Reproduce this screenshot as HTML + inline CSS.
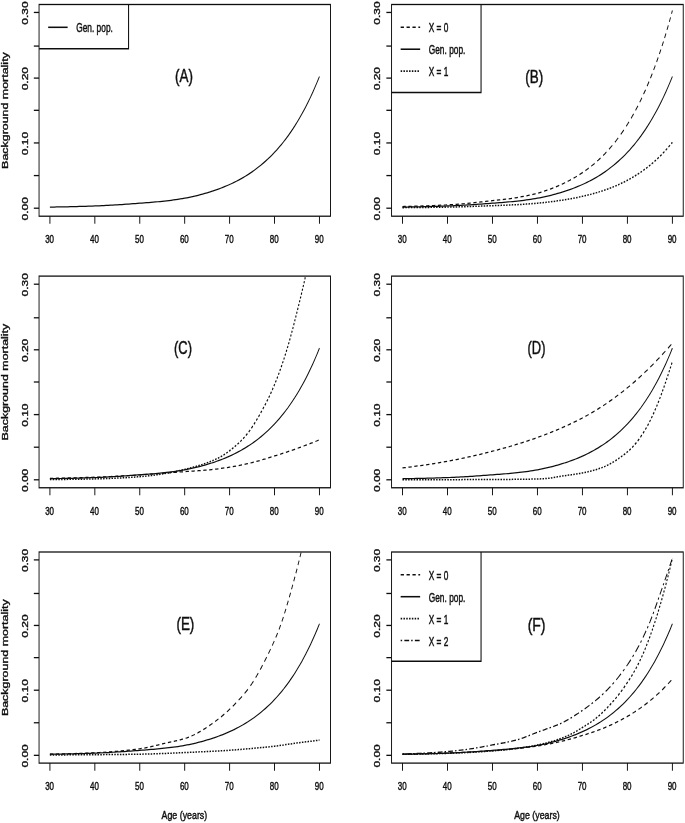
<!DOCTYPE html>
<html lang="en">
<head>
<meta charset="utf-8">
<title>Background mortality</title>
<style>
html,body{margin:0;padding:0;background:#fff;}
body{width:685px;height:823px;overflow:hidden;}
svg{display:block;}
svg text{font-family:"Liberation Sans", sans-serif;fill:#111;stroke:#111;stroke-width:0.45px;}
</style>
</head>
<body>
<svg width="685" height="823" viewBox="0 0 685 823">
<rect x="0" y="0" width="685" height="823" fill="#fff"/>
<defs><filter id="soft" x="-2%" y="-2%" width="104%" height="104%" filterUnits="objectBoundingBox"><feGaussianBlur stdDeviation="0.7 0.6"/></filter></defs>
<g filter="url(#soft)"><g transform="scale(0.735 1)" stroke="#111" stroke-width="1.3" stroke-linecap="butt" stroke-linejoin="miter">
<g>
<clipPath id="clip00"><rect x="53.13" y="4.5" width="396.53" height="211.7"/></clipPath>
<g clip-path="url(#clip00)" fill="none">
<polyline points="67.89,207.09 70.95,207.06 74,207.02 77.06,206.98 80.12,206.94 83.17,206.9 86.23,206.85 89.28,206.81 92.34,206.76 95.4,206.71 98.45,206.66 101.51,206.6 104.56,206.55 107.62,206.49 110.68,206.42 113.73,206.36 116.79,206.29 119.85,206.22 122.9,206.14 125.96,206.06 129.01,205.98 132.07,205.89 135.13,205.8 138.18,205.7 141.24,205.59 144.29,205.48 147.35,205.36 150.41,205.23 153.46,205.1 156.52,204.96 159.57,204.82 162.63,204.67 165.69,204.51 168.74,204.35 171.8,204.19 174.86,204.03 177.91,203.86 180.97,203.7 184.02,203.53 187.08,203.37 190.14,203.2 193.19,203.03 196.25,202.86 199.3,202.69 202.36,202.51 205.42,202.33 208.47,202.14 211.53,201.95 214.59,201.75 217.64,201.54 220.7,201.31 223.75,201.08 226.81,200.83 229.87,200.56 232.92,200.28 235.98,199.99 239.03,199.68 242.09,199.34 245.15,198.99 248.2,198.62 251.26,198.22 254.31,197.79 257.37,197.34 260.43,196.87 263.48,196.37 266.54,195.84 269.6,195.28 272.65,194.7 275.71,194.09 278.76,193.46 281.82,192.8 284.88,192.11 287.93,191.4 290.99,190.66 294.04,189.89 297.1,189.09 300.16,188.25 303.21,187.37 306.27,186.46 309.32,185.51 312.38,184.51 315.44,183.48 318.49,182.39 321.55,181.26 324.61,180.08 327.66,178.85 330.72,177.56 333.77,176.22 336.83,174.82 339.89,173.35 342.94,171.83 346,170.23 349.05,168.57 352.11,166.83 355.17,165.02 358.22,163.12 361.28,161.15 364.34,159.09 367.39,156.93 370.45,154.69 373.5,152.34 376.56,149.89 379.62,147.34 382.67,144.67 385.73,141.88 388.78,138.98 391.84,135.94 394.9,132.77 397.95,129.47 401.01,126.02 404.06,122.41 407.12,118.65 410.18,114.73 413.23,110.63 416.29,106.35 419.35,101.89 422.4,97.23 425.46,92.37 428.51,87.29 431.57,81.99 434.63,76.46" stroke-width="1.25"/>
</g>
<rect x="53.13" y="4.5" width="121.77" height="44.3" fill="#fff" stroke="none"/>
<path d="M174.9 4.5V48.8H53.13" fill="none" stroke-width="1.45"/>
<line x1="65.51" y1="27.3" x2="92.04" y2="27.3" stroke-width="1.55"/>
<text x="103.74" y="32.4" font-size="12.3" text-anchor="start" textLength="49.8" lengthAdjust="spacingAndGlyphs">Gen. pop.</text>
<rect x="53.13" y="4.5" width="396.53" height="211.7" fill="none"/>
<line x1="67.89" y1="216.2" x2="67.89" y2="223.8"/>
<text x="67.48" y="243.5" font-size="11.8" text-anchor="middle" textLength="12.11" lengthAdjust="spacingAndGlyphs">30</text>
<line x1="129.01" y1="216.2" x2="129.01" y2="223.8"/>
<text x="128.61" y="243.5" font-size="11.8" text-anchor="middle" textLength="12.11" lengthAdjust="spacingAndGlyphs">40</text>
<line x1="190.14" y1="216.2" x2="190.14" y2="223.8"/>
<text x="189.73" y="243.5" font-size="11.8" text-anchor="middle" textLength="12.11" lengthAdjust="spacingAndGlyphs">50</text>
<line x1="251.26" y1="216.2" x2="251.26" y2="223.8"/>
<text x="250.85" y="243.5" font-size="11.8" text-anchor="middle" textLength="12.11" lengthAdjust="spacingAndGlyphs">60</text>
<line x1="312.38" y1="216.2" x2="312.38" y2="223.8"/>
<text x="311.97" y="243.5" font-size="11.8" text-anchor="middle" textLength="12.11" lengthAdjust="spacingAndGlyphs">70</text>
<line x1="373.5" y1="216.2" x2="373.5" y2="223.8"/>
<text x="373.1" y="243.5" font-size="11.8" text-anchor="middle" textLength="12.11" lengthAdjust="spacingAndGlyphs">80</text>
<line x1="434.63" y1="216.2" x2="434.63" y2="223.8"/>
<text x="434.22" y="243.5" font-size="11.8" text-anchor="middle" textLength="12.11" lengthAdjust="spacingAndGlyphs">90</text>
<line x1="46.05" y1="208.2" x2="53.13" y2="208.2"/>
<text transform="translate(37.76 208.8) rotate(-90)" font-size="11.8" text-anchor="middle" textLength="23.2" lengthAdjust="spacingAndGlyphs">0.00</text>
<line x1="46.05" y1="175.57" x2="53.13" y2="175.57"/>
<line x1="46.05" y1="142.95" x2="53.13" y2="142.95"/>
<text transform="translate(37.76 143.55) rotate(-90)" font-size="11.8" text-anchor="middle" textLength="23.2" lengthAdjust="spacingAndGlyphs">0.10</text>
<line x1="46.05" y1="110.32" x2="53.13" y2="110.32"/>
<line x1="46.05" y1="78.1" x2="53.13" y2="78.1"/>
<text transform="translate(37.76 78.7) rotate(-90)" font-size="11.8" text-anchor="middle" textLength="23.2" lengthAdjust="spacingAndGlyphs">0.20</text>
<line x1="46.05" y1="46.07" x2="53.13" y2="46.07"/>
<line x1="46.05" y1="12.45" x2="53.13" y2="12.45"/>
<text transform="translate(37.76 13.05) rotate(-90)" font-size="11.8" text-anchor="middle" textLength="23.2" lengthAdjust="spacingAndGlyphs">0.30</text>
<text x="250.34" y="82.3" font-size="17.7" text-anchor="middle" stroke-width="0.55" textLength="24.35" lengthAdjust="spacingAndGlyphs">(A)</text>
<text transform="translate(10.48 110.55) rotate(-90)" font-size="11.8" text-anchor="middle" stroke-width="0.32" textLength="116.7" lengthAdjust="spacingAndGlyphs">Background mortality</text>
</g>
<g>
<clipPath id="clip01"><rect x="532.72" y="4.5" width="396.87" height="211.7"/></clipPath>
<g clip-path="url(#clip01)" fill="none">
<path d="M547.62 206.54L550.68 206.48L552.11 206.46M555.65 206.39L556.8 206.37L559.86 206.31L560.14 206.31M563.67 206.23L565.98 206.18L568.16 206.13M571.7 206.05L572.1 206.04L575.16 205.97L576.19 205.94M579.73 205.85L581.28 205.81L584.22 205.72M587.76 205.62L590.46 205.54L592.24 205.48M595.78 205.36L596.58 205.33L599.64 205.23L600.27 205.2M603.81 205.07L605.76 205L608.3 204.89M611.84 204.74L611.88 204.74L614.94 204.6L616.33 204.53M619.86 204.35L621.06 204.29L624.12 204.12L624.35 204.11M627.89 203.89L630.24 203.75L632.38 203.61M635.92 203.37L636.36 203.34L639.42 203.12L640.41 203.05M643.95 202.79L645.54 202.67L648.44 202.44M651.97 202.16L654.72 201.94L656.46 201.8M660 201.51L660.84 201.45L663.9 201.2L664.49 201.15M668.03 200.86L670.02 200.7L672.52 200.49M676.05 200.2L676.14 200.19L679.2 199.93L680.54 199.82M684.08 199.51L685.32 199.4L688.38 199.11L688.57 199.1M692.11 198.76L694.5 198.52L696.6 198.3M700.14 197.92L700.62 197.87L703.68 197.52L704.63 197.4M708.16 196.96L709.8 196.74L712.65 196.35M716.19 195.84L718.98 195.41L720.68 195.14M724.22 194.54L725.1 194.39L728.16 193.83L728.71 193.72M732.24 193.02L734.28 192.59L736.73 192.05M740.27 191.24L740.4 191.2L743.46 190.45L744.76 190.12M748.3 189.18L749.59 188.83L752.65 187.95L752.79 187.91M756.33 186.85L758.77 186.09L760.82 185.42M764.35 184.24L764.89 184.06L767.95 182.99L768.84 182.67M772.38 181.37L774.07 180.73L776.87 179.63M780.41 178.18L783.25 176.96L784.9 176.22M788.44 174.6L789.37 174.16L792.43 172.67L792.93 172.42M796.46 170.6L798.55 169.49L800.95 168.16M804.49 166.12L804.67 166.02L807.73 164.17L808.98 163.38M812.52 161.1L813.85 160.23L816.91 158.13L817.01 158.05M820.54 155.5L823.03 153.64L825.03 152.07M828.57 149.22L829.15 148.75L832.21 146.15L833.06 145.39M836.6 142.19L838.33 140.59L841.09 137.91M844.59 134.38L847.51 131.3L848.79 129.88M851.95 126.34L853.63 124.41L855.76 121.85M858.63 118.3L859.75 116.9L862.11 113.81M864.74 110.27L865.87 108.72L867.94 105.77M870.36 102.23L871.99 99.81L873.33 97.73M875.59 94.19L878.11 90.1L878.35 89.7M880.44 86.15L881.17 84.92L883.02 81.66M884.99 78.12L887.29 73.88L887.42 73.62M889.27 70.08L890.35 67.99L891.55 65.58M893.31 62.04L893.41 61.85L895.46 57.54M897.12 54L899.18 49.51M900.74 45.97L902.59 41.75L902.71 41.47M904.19 37.93L905.65 34.45L906.06 33.43M907.48 29.89L908.71 26.83L909.26 25.39M910.63 21.85L911.77 18.88L912.33 17.36M913.64 13.81L914.83 10.59" stroke-width="1.25"/>
<polyline points="547.62,207.09 550.68,207.06 553.74,207.02 556.8,206.98 559.86,206.94 562.92,206.9 565.98,206.85 569.04,206.81 572.1,206.76 575.16,206.71 578.22,206.66 581.28,206.6 584.34,206.55 587.4,206.49 590.46,206.42 593.52,206.36 596.58,206.29 599.64,206.22 602.7,206.14 605.76,206.06 608.82,205.98 611.88,205.89 614.94,205.8 618,205.7 621.06,205.59 624.12,205.48 627.18,205.36 630.24,205.23 633.3,205.1 636.36,204.96 639.42,204.82 642.48,204.67 645.54,204.51 648.6,204.35 651.66,204.19 654.72,204.03 657.78,203.86 660.84,203.7 663.9,203.53 666.96,203.37 670.02,203.2 673.08,203.03 676.14,202.86 679.2,202.69 682.26,202.51 685.32,202.33 688.38,202.14 691.44,201.95 694.5,201.75 697.56,201.54 700.62,201.31 703.68,201.08 706.74,200.83 709.8,200.56 712.86,200.28 715.92,199.99 718.98,199.68 722.04,199.34 725.1,198.99 728.16,198.62 731.22,198.22 734.28,197.79 737.34,197.34 740.4,196.87 743.46,196.37 746.52,195.84 749.59,195.28 752.65,194.7 755.71,194.09 758.77,193.46 761.83,192.8 764.89,192.11 767.95,191.4 771.01,190.66 774.07,189.89 777.13,189.09 780.19,188.25 783.25,187.37 786.31,186.46 789.37,185.51 792.43,184.51 795.49,183.48 798.55,182.39 801.61,181.26 804.67,180.08 807.73,178.85 810.79,177.56 813.85,176.22 816.91,174.82 819.97,173.35 823.03,171.83 826.09,170.23 829.15,168.57 832.21,166.83 835.27,165.02 838.33,163.12 841.39,161.15 844.45,159.09 847.51,156.93 850.57,154.69 853.63,152.34 856.69,149.89 859.75,147.34 862.81,144.67 865.87,141.88 868.93,138.98 871.99,135.94 875.05,132.77 878.11,129.47 881.17,126.02 884.23,122.41 887.29,118.65 890.35,114.73 893.41,110.63 896.47,106.35 899.53,101.89 902.59,97.23 905.65,92.37 908.71,87.29 911.77,81.99 914.83,76.46" stroke-width="1.25"/>
<path d="M547.62 207.65L549.66 207.63M551.43 207.62L553.47 207.61M555.24 207.6L556.8 207.59L557.28 207.59M559.05 207.58L559.86 207.57L561.09 207.56M562.86 207.55L562.92 207.55L564.9 207.54M566.67 207.52L568.71 207.51M570.48 207.49L572.1 207.48L572.52 207.48M574.29 207.46L575.16 207.46L576.33 207.45M578.1 207.43L578.22 207.43L580.14 207.41M581.9 207.4L583.95 207.38M585.71 207.36L587.4 207.34L587.76 207.34M589.52 207.32L590.46 207.31L591.56 207.3M593.33 207.28L593.52 207.28L595.37 207.26M597.14 207.24L599.18 207.21M600.95 207.19L602.7 207.17L602.99 207.17M604.76 207.14L605.76 207.13L606.8 207.12M608.57 207.09L608.82 207.09L610.61 207.07M612.38 207.04L614.42 207.01M616.19 206.98L618 206.95L618.23 206.95M620 206.91L621.06 206.9L622.04 206.88M623.81 206.85L624.12 206.84L625.85 206.81M627.62 206.77L629.66 206.73M631.43 206.69L633.3 206.65L633.47 206.65M635.24 206.61L636.36 206.58L637.28 206.56M639.05 206.52L639.42 206.51L641.09 206.47M642.86 206.42L644.9 206.37M646.67 206.33L648.6 206.28L648.71 206.27M650.48 206.23L651.66 206.2L652.52 206.17M654.29 206.13L654.72 206.11L656.33 206.07M658.1 206.02L660.14 205.97M661.9 205.92L663.9 205.87L663.95 205.87M665.71 205.82L666.96 205.78L667.76 205.76M669.52 205.71L670.02 205.7L671.56 205.66M673.33 205.61L675.37 205.55M677.14 205.5L679.18 205.44M680.95 205.39L682.26 205.36L682.99 205.33M684.76 205.28L685.32 205.27L686.8 205.22M688.57 205.17L690.61 205.1M692.38 205.04L694.42 204.98M696.19 204.92L697.56 204.87L698.23 204.84M700 204.78L700.62 204.76L702.04 204.7M703.81 204.63L705.85 204.55M707.62 204.48L709.66 204.39M711.43 204.31L712.86 204.24L713.47 204.21M715.24 204.13L715.92 204.09L717.28 204.02M719.05 203.93L721.09 203.82M722.86 203.73L724.9 203.61M726.67 203.5L728.16 203.41L728.71 203.37M730.48 203.26L731.22 203.21L732.52 203.12M734.29 203L736.33 202.85M738.1 202.71L740.14 202.56M741.9 202.41L743.46 202.28L743.95 202.24M745.71 202.09L746.52 202.02L747.76 201.91M749.52 201.75L749.59 201.74L751.56 201.55M753.33 201.38L755.37 201.18M757.14 201L758.77 200.83L759.18 200.78M760.95 200.59L761.83 200.5L762.99 200.37M764.76 200.17L764.89 200.15L766.8 199.93M768.57 199.72L770.61 199.48M772.38 199.26L774.07 199.04L774.42 199M776.19 198.77L777.13 198.64L778.23 198.49M780 198.25L780.19 198.22L782.04 197.96M783.81 197.7L785.85 197.4M787.62 197.13L789.37 196.85L789.66 196.81M791.43 196.52L792.43 196.36L793.47 196.18M795.24 195.88L795.49 195.84L797.28 195.52M799.05 195.2L801.09 194.83M802.86 194.49L804.67 194.14L804.9 194.09M806.67 193.74L807.73 193.52L808.71 193.32M810.48 192.95L810.79 192.88L812.52 192.5M814.29 192.11L816.33 191.64M818.1 191.22L819.97 190.78L820.14 190.73M821.9 190.29L823.03 190.01L823.95 189.77M825.71 189.31L826.09 189.22L827.76 188.76M829.52 188.28L831.56 187.7M833.33 187.18L835.27 186.61L835.37 186.58M837.14 186.03L838.33 185.66L839.18 185.39M840.95 184.81L841.39 184.67L842.99 184.13M844.76 183.53L846.8 182.81M848.57 182.18L850.57 181.44L850.61 181.43M852.38 180.75L853.63 180.27L854.42 179.95M856.19 179.24L856.69 179.05L858.23 178.4M860 177.66L862.04 176.77M863.81 175.98L865.85 175.05M867.62 174.21L868.93 173.59L869.66 173.23M871.43 172.35L871.99 172.07L873.47 171.3M875.24 170.38L877.28 169.28M879.05 168.3L881.09 167.15M882.86 166.11L884.23 165.31L884.9 164.9M886.67 163.81L887.29 163.43L888.71 162.52M890.48 161.38L892.52 160.01M894.29 158.8L896.33 157.38M898.1 156.09L899.53 155.05L900.14 154.58M901.9 153.24L902.59 152.72L903.95 151.64M905.71 150.23L907.76 148.54M909.52 147.04L911.56 145.27M913.33 143.68L914.83 142.33" stroke-width="1.5"/>
</g>
<rect x="532.72" y="4.5" width="121.77" height="88" fill="#fff" stroke="none"/>
<path d="M654.49 4.5V92.5H532.72" fill="none" stroke-width="1.45"/>
<path d="M545.1 27.3L549.59 27.3M553.13 27.3L557.62 27.3M561.16 27.3L565.65 27.3M569.18 27.3L571.63 27.3" stroke-width="1.55" fill="none"/>
<text x="583.33" y="32.4" font-size="12.3" text-anchor="start" textLength="26.67" lengthAdjust="spacingAndGlyphs">X = 0</text>
<line x1="545.1" y1="49.2" x2="571.63" y2="49.2" stroke-width="1.55"/>
<text x="583.33" y="54.3" font-size="12.3" text-anchor="start" textLength="49.8" lengthAdjust="spacingAndGlyphs">Gen. pop.</text>
<path d="M545.1 71.1L547.14 71.1M548.91 71.1L550.95 71.1M552.72 71.1L554.76 71.1M556.53 71.1L558.57 71.1M560.34 71.1L562.38 71.1M564.15 71.1L566.19 71.1M567.96 71.1L570 71.1" stroke-width="1.8" fill="none"/>
<text x="583.33" y="76.2" font-size="12.3" text-anchor="start" textLength="26.67" lengthAdjust="spacingAndGlyphs">X = 1</text>
<rect x="532.72" y="4.5" width="396.87" height="211.7" fill="none"/>
<line x1="547.62" y1="216.2" x2="547.62" y2="223.8"/>
<text x="547.21" y="243.5" font-size="11.8" text-anchor="middle" textLength="12.11" lengthAdjust="spacingAndGlyphs">30</text>
<line x1="608.82" y1="216.2" x2="608.82" y2="223.8"/>
<text x="608.41" y="243.5" font-size="11.8" text-anchor="middle" textLength="12.11" lengthAdjust="spacingAndGlyphs">40</text>
<line x1="670.02" y1="216.2" x2="670.02" y2="223.8"/>
<text x="669.61" y="243.5" font-size="11.8" text-anchor="middle" textLength="12.11" lengthAdjust="spacingAndGlyphs">50</text>
<line x1="731.22" y1="216.2" x2="731.22" y2="223.8"/>
<text x="730.82" y="243.5" font-size="11.8" text-anchor="middle" textLength="12.11" lengthAdjust="spacingAndGlyphs">60</text>
<line x1="792.43" y1="216.2" x2="792.43" y2="223.8"/>
<text x="792.02" y="243.5" font-size="11.8" text-anchor="middle" textLength="12.11" lengthAdjust="spacingAndGlyphs">70</text>
<line x1="853.63" y1="216.2" x2="853.63" y2="223.8"/>
<text x="853.22" y="243.5" font-size="11.8" text-anchor="middle" textLength="12.11" lengthAdjust="spacingAndGlyphs">80</text>
<line x1="914.83" y1="216.2" x2="914.83" y2="223.8"/>
<text x="914.42" y="243.5" font-size="11.8" text-anchor="middle" textLength="12.11" lengthAdjust="spacingAndGlyphs">90</text>
<line x1="525.65" y1="208.2" x2="532.72" y2="208.2"/>
<text transform="translate(517.35 208.8) rotate(-90)" font-size="11.8" text-anchor="middle" textLength="23.2" lengthAdjust="spacingAndGlyphs">0.00</text>
<line x1="525.65" y1="175.57" x2="532.72" y2="175.57"/>
<line x1="525.65" y1="142.95" x2="532.72" y2="142.95"/>
<text transform="translate(517.35 143.55) rotate(-90)" font-size="11.8" text-anchor="middle" textLength="23.2" lengthAdjust="spacingAndGlyphs">0.10</text>
<line x1="525.65" y1="110.32" x2="532.72" y2="110.32"/>
<line x1="525.65" y1="78.1" x2="532.72" y2="78.1"/>
<text transform="translate(517.35 78.7) rotate(-90)" font-size="11.8" text-anchor="middle" textLength="23.2" lengthAdjust="spacingAndGlyphs">0.20</text>
<line x1="525.65" y1="46.07" x2="532.72" y2="46.07"/>
<line x1="525.65" y1="12.45" x2="532.72" y2="12.45"/>
<text transform="translate(517.35 13.05) rotate(-90)" font-size="11.8" text-anchor="middle" textLength="23.2" lengthAdjust="spacingAndGlyphs">0.30</text>
<text x="726.94" y="83.5" font-size="17.7" text-anchor="middle" stroke-width="0.55" textLength="24.35" lengthAdjust="spacingAndGlyphs">(B)</text>
</g>
<g>
<clipPath id="clip10"><rect x="53.13" y="276.1" width="396.53" height="211.65"/></clipPath>
<g clip-path="url(#clip10)" fill="none">
<path d="M67.89 478.37L70.95 478.32L72.38 478.3M75.92 478.25L77.06 478.23L80.12 478.19L80.41 478.18M83.95 478.13L86.23 478.09L88.44 478.05M91.97 477.99L92.34 477.98L95.4 477.93L96.46 477.91M100 477.84L101.51 477.81L104.49 477.76M108.03 477.68L110.68 477.63L112.52 477.59M116.05 477.51L116.79 477.49L119.85 477.42L120.54 477.4M124.08 477.32L125.96 477.27L128.57 477.2M132.11 477.11L135.13 477.02L136.6 476.98M140.14 476.88L141.24 476.84L144.29 476.75L144.63 476.73M148.16 476.62L150.41 476.54L152.65 476.46M156.19 476.33L156.52 476.32L159.57 476.21L160.68 476.16M164.22 476.03L165.69 475.97L168.71 475.84M172.24 475.7L174.86 475.59L176.73 475.5M180.27 475.35L180.97 475.32L184.02 475.18L184.76 475.15M188.3 474.99L190.14 474.91L192.79 474.79M196.33 474.62L199.3 474.48L200.82 474.41M204.35 474.23L205.42 474.18L208.47 474.02L208.84 474M212.38 473.82L214.59 473.7L216.87 473.58M220.41 473.39L220.7 473.37L223.75 473.2L224.9 473.14M228.44 472.94L229.87 472.86L232.92 472.69L232.93 472.69M236.46 472.49L239.03 472.34L240.95 472.23M244.49 472.03L245.15 471.99L248.2 471.82L248.98 471.78M252.52 471.58L254.31 471.48L257.01 471.34M260.54 471.17L263.48 471.02L265.03 470.95M268.57 470.77L269.6 470.72L272.65 470.56L273.06 470.54M276.6 470.33L278.76 470.2L281.09 470.05M284.63 469.8L284.88 469.79L287.93 469.55L289.12 469.46M292.65 469.17L294.04 469.05L297.1 468.78L297.14 468.77M300.68 468.44L303.21 468.19L305.17 467.99M308.71 467.61L309.32 467.55L312.38 467.2L313.2 467.11M316.73 466.67L318.49 466.45L321.22 466.08M324.76 465.58L327.66 465.15L329.25 464.9M332.79 464.35L333.77 464.19L336.83 463.69L337.28 463.61M340.82 462.99L342.94 462.6L345.31 462.15M348.84 461.45L349.05 461.41L352.11 460.78L353.33 460.52M356.87 459.75L358.22 459.45L361.28 458.77L361.36 458.75M364.9 457.95L367.39 457.37L369.39 456.92M372.93 456.11L373.5 455.97L376.56 455.27L377.41 455.07M380.95 454.24L382.67 453.84L385.44 453.18M388.98 452.32L391.84 451.62L393.47 451.22M397.01 450.33L397.95 450.09L401.01 449.3L401.5 449.18M405.03 448.25L407.12 447.69L409.52 447.04M413.06 446.07L413.23 446.02L416.29 445.17L417.55 444.82M421.09 443.81L422.4 443.43L425.46 442.55L425.58 442.51M429.12 441.48L431.57 440.75L433.61 440.14" stroke-width="1.25"/>
<polyline points="67.89,478.69 70.95,478.66 74,478.62 77.06,478.58 80.12,478.54 83.17,478.5 86.23,478.46 89.28,478.41 92.34,478.36 95.4,478.31 98.45,478.26 101.51,478.21 104.56,478.15 107.62,478.09 110.68,478.03 113.73,477.96 116.79,477.89 119.85,477.82 122.9,477.74 125.96,477.67 129.01,477.58 132.07,477.5 135.13,477.4 138.18,477.3 141.24,477.19 144.29,477.08 147.35,476.96 150.41,476.83 153.46,476.7 156.52,476.56 159.57,476.42 162.63,476.27 165.69,476.12 168.74,475.96 171.8,475.8 174.86,475.63 177.91,475.47 180.97,475.3 184.02,475.14 187.08,474.97 190.14,474.8 193.19,474.64 196.25,474.47 199.3,474.29 202.36,474.12 205.42,473.93 208.47,473.75 211.53,473.55 214.59,473.35 217.64,473.14 220.7,472.92 223.75,472.68 226.81,472.43 229.87,472.17 232.92,471.89 235.98,471.59 239.03,471.28 242.09,470.95 245.15,470.6 248.2,470.22 251.26,469.83 254.31,469.4 257.37,468.95 260.43,468.48 263.48,467.98 266.54,467.45 269.6,466.89 272.65,466.31 275.71,465.7 278.76,465.07 281.82,464.41 284.88,463.72 287.93,463.01 290.99,462.27 294.04,461.5 297.1,460.7 300.16,459.86 303.21,458.99 306.27,458.08 309.32,457.13 312.38,456.13 315.44,455.1 318.49,454.01 321.55,452.88 324.61,451.7 327.66,450.47 330.72,449.19 333.77,447.84 336.83,446.44 339.89,444.98 342.94,443.45 346,441.86 349.05,440.2 352.11,438.46 355.17,436.65 358.22,434.76 361.28,432.78 364.34,430.72 367.39,428.57 370.45,426.33 373.5,423.98 376.56,421.54 379.62,418.98 382.67,416.32 385.73,413.53 388.78,410.63 391.84,407.6 394.9,404.43 397.95,401.13 401.01,397.68 404.06,394.08 407.12,390.32 410.18,386.4 413.23,382.31 416.29,378.03 419.35,373.57 422.4,368.92 425.46,364.06 428.51,358.98 431.57,353.69 434.63,348.16" stroke-width="1.25"/>
<path d="M67.89 479.54L69.93 479.53M71.7 479.52L73.74 479.51M75.51 479.49L77.06 479.48L77.55 479.48M79.32 479.47L80.12 479.46L81.36 479.46M83.13 479.44L83.17 479.44L85.17 479.43M86.94 479.41L88.98 479.4M90.75 479.38L92.34 479.37L92.79 479.36M94.56 479.35L95.4 479.34L96.6 479.33M98.37 479.31L98.45 479.31L100.41 479.29M102.18 479.27L104.22 479.25M105.99 479.23L107.62 479.21L108.03 479.2M109.8 479.18L110.68 479.17L111.84 479.16M113.61 479.13L113.73 479.13L115.65 479.1M117.41 479.08L119.46 479.05M121.22 479.02L122.9 478.99L123.27 478.99M125.03 478.96L125.96 478.94L127.07 478.92M128.84 478.89L129.01 478.89L130.88 478.85M132.65 478.82L134.69 478.78M136.46 478.74L138.18 478.7L138.5 478.69M140.27 478.65L141.24 478.63L142.31 478.6M144.08 478.56L144.29 478.56L146.12 478.51M147.89 478.46L149.93 478.4M151.7 478.35L153.46 478.3L153.74 478.29M155.51 478.24L156.52 478.21L157.55 478.17M159.32 478.11L159.57 478.1L161.36 478.04M163.13 477.98L165.17 477.9M166.94 477.83L168.74 477.76L168.98 477.75M170.75 477.68L171.8 477.63L172.79 477.59M174.56 477.51L174.86 477.49L176.6 477.41M178.37 477.33L180.41 477.22M182.18 477.13L184.02 477.03L184.22 477.02M185.99 476.92L187.08 476.86L188.03 476.8M189.8 476.69L190.14 476.67L191.84 476.56M193.61 476.44L195.65 476.3M197.41 476.18L199.3 476.04L199.46 476.02M201.22 475.88L202.36 475.79L203.27 475.72M205.03 475.57L205.42 475.54L207.07 475.39M208.84 475.23L210.88 475.03M212.65 474.85L214.59 474.66L214.69 474.65M216.46 474.45L217.64 474.33L218.5 474.23M220.27 474.03L220.7 473.98L222.31 473.78M224.08 473.57L226.12 473.31M227.89 473.07L229.87 472.81L229.93 472.8M231.7 472.55L232.92 472.38L233.74 472.26M235.51 471.99L235.98 471.92L237.55 471.68M239.32 471.41L241.36 471.08M243.13 470.79L245.15 470.45L245.17 470.44M246.94 470.14L248.2 469.92L248.98 469.78M250.75 469.46L251.26 469.37L252.79 469.09M254.56 468.76L256.6 468.38M258.37 468.04L260.41 467.65M262.18 467.3L263.48 467.04L264.22 466.89M265.99 466.53L266.54 466.42L268.03 466.1M269.8 465.72L271.84 465.27M273.61 464.86L275.65 464.38M277.41 463.93L278.76 463.6L279.46 463.41M281.22 462.93L281.82 462.78L283.27 462.37M285.03 461.87L287.07 461.27M288.84 460.73L290.88 460.1M292.65 459.51L294.04 459.05L294.69 458.81M296.46 458.18L297.1 457.95L298.5 457.4M300.27 456.7L302.31 455.82M304.08 455.02L306.12 454.06M307.89 453.16L309.32 452.43L309.93 452.1M311.7 451.14L312.38 450.77L313.74 449.99M315.51 448.97L317.55 447.74M319.32 446.65L321.36 445.35M323.13 444.17L324.61 443.18L325.17 442.78M326.94 441.52L327.66 441L328.98 440M330.75 438.64L332.79 436.97M334.56 435.46L336.6 433.64M338.37 431.93L339.89 430.44L340.38 429.91M342.04 428.14L342.94 427.18L343.89 426.1M345.44 424.33L346 423.69L347.16 422.29M348.62 420.51L349.05 420L350.27 418.47M351.68 416.7L352.11 416.16L353.28 414.66M354.66 412.89L355.17 412.23L356.21 410.84M357.55 409.07L358.22 408.17L359.05 407.03M360.33 405.26L361.28 403.95L361.79 403.21M363.02 401.44L364.34 399.54L364.43 399.4M365.59 397.63L366.93 395.58M368.05 393.81L369.32 391.77M370.41 390L370.45 389.94L371.6 387.96M372.62 386.18L373.5 384.66L373.79 384.14M374.75 382.37L375.87 380.33M376.82 378.56L377.88 376.51M378.79 374.74L379.62 373.14L379.83 372.7M380.7 370.93L381.69 368.88M382.56 367.11L382.67 366.88L383.51 365.07M384.33 363.3L385.27 361.25M386.07 359.48L386.96 357.44M387.74 355.67L388.63 353.63M389.37 351.85L390.22 349.81M390.95 348.04L391.8 346M392.48 344.23L393.28 342.18M393.96 340.41L394.76 338.37M395.41 336.6L396.16 334.55M396.81 332.78L397.56 330.74M398.2 328.97L398.92 326.92M399.55 325.15L400.27 323.11M400.89 321.34L401.01 321L401.59 319.29M402.2 317.52L402.9 315.48M403.51 313.71L404.06 312.08L404.21 311.67M404.8 309.89L405.49 307.85M406.09 306.08L406.78 304.04M407.37 302.27L408.04 300.22M408.63 298.45L409.3 296.41M409.89 294.64L410.18 293.77L410.55 292.59M411.12 290.82L411.78 288.78M412.34 287.01L413 284.96M413.55 283.19L414.18 281.15M414.73 279.38L415.36 277.34M415.9 275.56L416.29 274.31L416.52 273.52M417.05 271.75L417.65 269.71M418.17 267.94L418.78 265.89M419.3 264.12L419.35 263.97L419.88 262.08M420.38 260.31L420.96 258.26M421.47 256.49L422.05 254.45" stroke-width="1.5"/>
</g>
<rect x="53.13" y="276.1" width="396.53" height="211.65" fill="none"/>
<line x1="67.89" y1="487.75" x2="67.89" y2="495.35"/>
<text x="67.48" y="515.05" font-size="11.8" text-anchor="middle" textLength="12.11" lengthAdjust="spacingAndGlyphs">30</text>
<line x1="129.01" y1="487.75" x2="129.01" y2="495.35"/>
<text x="128.61" y="515.05" font-size="11.8" text-anchor="middle" textLength="12.11" lengthAdjust="spacingAndGlyphs">40</text>
<line x1="190.14" y1="487.75" x2="190.14" y2="495.35"/>
<text x="189.73" y="515.05" font-size="11.8" text-anchor="middle" textLength="12.11" lengthAdjust="spacingAndGlyphs">50</text>
<line x1="251.26" y1="487.75" x2="251.26" y2="495.35"/>
<text x="250.85" y="515.05" font-size="11.8" text-anchor="middle" textLength="12.11" lengthAdjust="spacingAndGlyphs">60</text>
<line x1="312.38" y1="487.75" x2="312.38" y2="495.35"/>
<text x="311.97" y="515.05" font-size="11.8" text-anchor="middle" textLength="12.11" lengthAdjust="spacingAndGlyphs">70</text>
<line x1="373.5" y1="487.75" x2="373.5" y2="495.35"/>
<text x="373.1" y="515.05" font-size="11.8" text-anchor="middle" textLength="12.11" lengthAdjust="spacingAndGlyphs">80</text>
<line x1="434.63" y1="487.75" x2="434.63" y2="495.35"/>
<text x="434.22" y="515.05" font-size="11.8" text-anchor="middle" textLength="12.11" lengthAdjust="spacingAndGlyphs">90</text>
<line x1="46.05" y1="479.8" x2="53.13" y2="479.8"/>
<text transform="translate(37.76 480.4) rotate(-90)" font-size="11.8" text-anchor="middle" textLength="23.2" lengthAdjust="spacingAndGlyphs">0.00</text>
<line x1="46.05" y1="447.2" x2="53.13" y2="447.2"/>
<line x1="46.05" y1="414.6" x2="53.13" y2="414.6"/>
<text transform="translate(37.76 415.2) rotate(-90)" font-size="11.8" text-anchor="middle" textLength="23.2" lengthAdjust="spacingAndGlyphs">0.10</text>
<line x1="46.05" y1="382" x2="53.13" y2="382"/>
<line x1="46.05" y1="349.8" x2="53.13" y2="349.8"/>
<text transform="translate(37.76 350.4) rotate(-90)" font-size="11.8" text-anchor="middle" textLength="23.2" lengthAdjust="spacingAndGlyphs">0.20</text>
<line x1="46.05" y1="317.8" x2="53.13" y2="317.8"/>
<line x1="46.05" y1="284.2" x2="53.13" y2="284.2"/>
<text transform="translate(37.76 284.8) rotate(-90)" font-size="11.8" text-anchor="middle" textLength="23.2" lengthAdjust="spacingAndGlyphs">0.30</text>
<text x="248.98" y="354.1" font-size="17.7" text-anchor="middle" stroke-width="0.55" textLength="24.35" lengthAdjust="spacingAndGlyphs">(C)</text>
<text transform="translate(10.48 382.12) rotate(-90)" font-size="11.8" text-anchor="middle" stroke-width="0.32" textLength="116.7" lengthAdjust="spacingAndGlyphs">Background mortality</text>
</g>
<g>
<clipPath id="clip11"><rect x="532.72" y="276.1" width="396.87" height="211.65"/></clipPath>
<g clip-path="url(#clip11)" fill="none">
<path d="M547.62 467.93L550.68 467.66L552.11 467.53M555.65 467.2L556.8 467.1L559.86 466.81L560.14 466.78M563.67 466.43L565.98 466.21L568.16 465.99M571.7 465.62L572.1 465.58L575.16 465.26L576.19 465.15M579.73 464.76L581.28 464.59L584.22 464.26M587.76 463.86L590.46 463.54L592.24 463.33M595.78 462.9L596.58 462.8L599.64 462.42L600.27 462.34M603.81 461.89L605.76 461.64L608.3 461.3M611.84 460.83L611.88 460.82L614.94 460.4L616.33 460.2M619.86 459.7L621.06 459.53L624.12 459.07L624.35 459.04M627.89 458.5L630.24 458.14L632.38 457.81M635.92 457.25L636.36 457.18L639.42 456.68L640.41 456.51M643.95 455.92L645.54 455.65L648.44 455.16M651.97 454.54L654.72 454.05L656.46 453.74M660 453.1L660.84 452.94L663.9 452.37L664.49 452.26M668.03 451.6L670.02 451.22L672.52 450.74M676.05 450.05L676.14 450.03L679.2 449.42L680.54 449.15M684.08 448.44L685.32 448.19L688.38 447.55L688.57 447.51M692.11 446.77L694.5 446.26L696.6 445.8M700.14 445.03L700.62 444.92L703.68 444.23L704.63 444.02M708.16 443.21L709.8 442.83L712.65 442.16M716.19 441.31L718.98 440.63L720.68 440.2M724.22 439.31L725.1 439.09L728.16 438.29L728.71 438.15M732.24 437.21L734.28 436.67L736.73 436M740.27 435.03L740.4 434.99L743.46 434.13L744.76 433.76M748.3 432.75L749.59 432.37L752.65 431.47L752.79 431.43M756.33 430.37L758.77 429.62L760.82 428.99M764.35 427.87L764.89 427.7L767.95 426.72L768.84 426.42M772.38 425.24L774.07 424.68L776.87 423.71M780.41 422.46L783.25 421.44L784.9 420.83M788.44 419.51L789.37 419.16L792.43 417.97L792.93 417.77M796.46 416.36L798.55 415.51L800.95 414.51M804.49 413.01L804.67 412.93L807.73 411.6L808.98 411.05M812.52 409.45L813.85 408.85L816.91 407.43L817.01 407.38M820.54 405.69L823.03 404.48L825.03 403.49M828.57 401.71L829.15 401.42L832.21 399.83L833.06 399.38M836.6 397.5L838.33 396.57L841.09 395.05M844.63 393.07L847.51 391.43L849.12 390.49M852.65 388.41L853.63 387.83L856.69 385.97L857.14 385.69M860.68 383.48L862.81 382.13L865.17 380.61M868.71 378.28L868.93 378.13L871.99 376.07L873.2 375.24M876.73 372.79L878.11 371.83L881.17 369.65L881.22 369.61M884.76 367.04L887.29 365.18L889.25 363.71M892.79 361.03L893.41 360.56L896.47 358.19L897.28 357.55M900.82 354.75L902.59 353.33L905.31 351.11M908.84 348.18L911.77 345.71L913.33 344.36" stroke-width="1.25"/>
<polyline points="547.62,478.69 550.68,478.66 553.74,478.62 556.8,478.58 559.86,478.54 562.92,478.5 565.98,478.46 569.04,478.41 572.1,478.36 575.16,478.31 578.22,478.26 581.28,478.21 584.34,478.15 587.4,478.09 590.46,478.03 593.52,477.96 596.58,477.89 599.64,477.82 602.7,477.74 605.76,477.67 608.82,477.58 611.88,477.5 614.94,477.4 618,477.3 621.06,477.19 624.12,477.08 627.18,476.96 630.24,476.83 633.3,476.7 636.36,476.56 639.42,476.42 642.48,476.27 645.54,476.12 648.6,475.96 651.66,475.8 654.72,475.63 657.78,475.47 660.84,475.3 663.9,475.14 666.96,474.97 670.02,474.8 673.08,474.64 676.14,474.47 679.2,474.29 682.26,474.12 685.32,473.93 688.38,473.75 691.44,473.55 694.5,473.35 697.56,473.14 700.62,472.92 703.68,472.68 706.74,472.43 709.8,472.17 712.86,471.89 715.92,471.59 718.98,471.28 722.04,470.95 725.1,470.6 728.16,470.22 731.22,469.83 734.28,469.4 737.34,468.95 740.4,468.48 743.46,467.98 746.52,467.45 749.59,466.89 752.65,466.31 755.71,465.7 758.77,465.07 761.83,464.41 764.89,463.72 767.95,463.01 771.01,462.27 774.07,461.5 777.13,460.7 780.19,459.86 783.25,458.99 786.31,458.08 789.37,457.13 792.43,456.13 795.49,455.1 798.55,454.01 801.61,452.88 804.67,451.7 807.73,450.47 810.79,449.19 813.85,447.84 816.91,446.44 819.97,444.98 823.03,443.45 826.09,441.86 829.15,440.2 832.21,438.46 835.27,436.65 838.33,434.76 841.39,432.78 844.45,430.72 847.51,428.57 850.57,426.33 853.63,423.98 856.69,421.54 859.75,418.98 862.81,416.32 865.87,413.53 868.93,410.63 871.99,407.6 875.05,404.43 878.11,401.13 881.17,397.68 884.23,394.08 887.29,390.32 890.35,386.4 893.41,382.31 896.47,378.03 899.53,373.57 902.59,368.92 905.65,364.06 908.71,358.98 911.77,353.69 914.83,348.16" stroke-width="1.25"/>
<path d="M547.62 479.7L549.66 479.7M551.43 479.7L553.47 479.7M555.24 479.7L556.8 479.7L557.28 479.7M559.05 479.7L559.86 479.7L561.09 479.7M562.86 479.7L562.92 479.7L564.9 479.69M566.67 479.69L568.71 479.69M570.48 479.69L572.1 479.69L572.52 479.69M574.29 479.69L575.16 479.69L576.33 479.69M578.1 479.68L578.22 479.68L580.14 479.68M581.9 479.68L583.95 479.68M585.71 479.68L587.4 479.68L587.76 479.68M589.52 479.68L590.46 479.67L591.56 479.67M593.33 479.67L593.52 479.67L595.37 479.67M597.14 479.67L599.18 479.67M600.95 479.66L602.7 479.66L602.99 479.66M604.76 479.66L605.76 479.66L606.8 479.66M608.57 479.65L608.82 479.65L610.61 479.65M612.38 479.65L614.42 479.65M616.19 479.64L618 479.64L618.23 479.64M620 479.64L621.06 479.64L622.04 479.63M623.81 479.63L624.12 479.63L625.85 479.63M627.62 479.63L629.66 479.62M631.43 479.62L633.3 479.62L633.47 479.62M635.24 479.61L636.36 479.61L637.28 479.61M639.05 479.61L639.42 479.6L641.09 479.6M642.86 479.6L644.9 479.59M646.67 479.59L648.6 479.58L648.71 479.58M650.48 479.58L651.66 479.58L652.52 479.57M654.29 479.57L654.72 479.57L656.33 479.56M658.1 479.56L660.14 479.55M661.9 479.55L663.9 479.54L663.95 479.54M665.71 479.53L666.96 479.53L667.76 479.53M669.52 479.52L670.02 479.52L671.56 479.51M673.33 479.5L675.37 479.49M677.14 479.49L679.18 479.48M680.95 479.47L682.26 479.46L682.99 479.46M684.76 479.45L685.32 479.44L686.8 479.44M688.57 479.43L690.61 479.41M692.38 479.4L694.42 479.39M696.19 479.38L697.56 479.37L698.23 479.36M700 479.35L700.62 479.34L702.04 479.33M703.81 479.32L705.85 479.3M707.62 479.29L709.66 479.27M711.43 479.25L712.86 479.24L713.47 479.23M715.24 479.21L715.92 479.21L717.28 479.19M719.05 479.17L721.09 479.14M722.86 479.12L724.9 479.09M726.67 479.06L728.16 479.04L728.71 479.02M730.48 478.99L731.22 478.97L732.52 478.94M734.29 478.9L736.33 478.84M738.1 478.78L740.14 478.69M741.9 478.59L743.46 478.49L743.95 478.46M745.71 478.32L746.52 478.26L747.76 478.14M749.52 477.98L749.59 477.97L751.56 477.75M753.33 477.54L755.37 477.28M757.14 477.05L758.77 476.83L759.18 476.78M760.95 476.54L761.83 476.43L762.99 476.3M764.76 476.09L764.89 476.08L766.8 475.87M768.57 475.68L770.61 475.47M772.38 475.28L774.07 475.11L774.42 475.07M776.19 474.89L777.13 474.79L778.23 474.67M780 474.48L780.19 474.46L782.04 474.26M783.81 474.06L785.85 473.83M787.62 473.61L789.37 473.39L789.66 473.35M791.43 473.1L792.43 472.95L793.47 472.79M795.24 472.52L795.49 472.48L797.28 472.19M799.05 471.9L801.09 471.55M802.86 471.23L804.67 470.9L804.9 470.86M806.67 470.51L807.73 470.31L808.71 470.1M810.48 469.73L810.79 469.66L812.52 469.27M814.29 468.85L816.33 468.34M818.1 467.87L819.97 467.35L820.14 467.3M821.9 466.75L823.03 466.41L823.95 466.09M825.71 465.49L826.09 465.36L827.76 464.74M829.52 464.07L831.56 463.24M833.33 462.49L835.27 461.64L835.37 461.59M837.14 460.76L838.33 460.21L839.18 459.79M840.95 458.91L841.39 458.7L842.99 457.87M844.76 456.95L846.8 455.85M848.57 454.88L850.57 453.76L850.61 453.73M852.38 452.67L853.63 451.93L854.42 451.41M856.19 450.26L856.69 449.93L858.23 448.82M860 447.52L862.04 445.89M863.81 444.4L865.85 442.61M867.62 440.92L868.93 439.66L869.63 438.93M871.34 437.16L871.99 436.49L873.21 435.12M874.79 433.35L875.05 433.06L876.51 431.3M877.98 429.53L878.11 429.38L879.58 427.49M880.95 425.72L881.17 425.44L882.43 423.67M883.69 421.9L884.23 421.15L885.08 419.86M886.26 418.09L887.29 416.53L887.59 416.04M888.68 414.27L889.95 412.23M891 410.46L892.19 408.42M893.21 406.64L893.41 406.31L894.35 404.6M895.32 402.83L896.45 400.79M897.37 399.02L898.43 396.97M899.35 395.2L899.53 394.85L900.36 393.16M901.23 391.39L902.23 389.34M903.08 387.57L904.04 385.53M904.87 383.76L905.65 382.1L905.82 381.71M906.63 379.94L907.56 377.9M908.37 376.13L908.71 375.38L909.29 374.08M910.08 372.31L910.99 370.27M911.77 368.5L912.66 366.46M913.43 364.68L914.32 362.64" stroke-width="1.5"/>
</g>
<rect x="532.72" y="276.1" width="396.87" height="211.65" fill="none"/>
<line x1="547.62" y1="487.75" x2="547.62" y2="495.35"/>
<text x="547.21" y="515.05" font-size="11.8" text-anchor="middle" textLength="12.11" lengthAdjust="spacingAndGlyphs">30</text>
<line x1="608.82" y1="487.75" x2="608.82" y2="495.35"/>
<text x="608.41" y="515.05" font-size="11.8" text-anchor="middle" textLength="12.11" lengthAdjust="spacingAndGlyphs">40</text>
<line x1="670.02" y1="487.75" x2="670.02" y2="495.35"/>
<text x="669.61" y="515.05" font-size="11.8" text-anchor="middle" textLength="12.11" lengthAdjust="spacingAndGlyphs">50</text>
<line x1="731.22" y1="487.75" x2="731.22" y2="495.35"/>
<text x="730.82" y="515.05" font-size="11.8" text-anchor="middle" textLength="12.11" lengthAdjust="spacingAndGlyphs">60</text>
<line x1="792.43" y1="487.75" x2="792.43" y2="495.35"/>
<text x="792.02" y="515.05" font-size="11.8" text-anchor="middle" textLength="12.11" lengthAdjust="spacingAndGlyphs">70</text>
<line x1="853.63" y1="487.75" x2="853.63" y2="495.35"/>
<text x="853.22" y="515.05" font-size="11.8" text-anchor="middle" textLength="12.11" lengthAdjust="spacingAndGlyphs">80</text>
<line x1="914.83" y1="487.75" x2="914.83" y2="495.35"/>
<text x="914.42" y="515.05" font-size="11.8" text-anchor="middle" textLength="12.11" lengthAdjust="spacingAndGlyphs">90</text>
<line x1="525.65" y1="479.8" x2="532.72" y2="479.8"/>
<text transform="translate(517.35 480.4) rotate(-90)" font-size="11.8" text-anchor="middle" textLength="23.2" lengthAdjust="spacingAndGlyphs">0.00</text>
<line x1="525.65" y1="447.2" x2="532.72" y2="447.2"/>
<line x1="525.65" y1="414.6" x2="532.72" y2="414.6"/>
<text transform="translate(517.35 415.2) rotate(-90)" font-size="11.8" text-anchor="middle" textLength="23.2" lengthAdjust="spacingAndGlyphs">0.10</text>
<line x1="525.65" y1="382" x2="532.72" y2="382"/>
<line x1="525.65" y1="349.8" x2="532.72" y2="349.8"/>
<text transform="translate(517.35 350.4) rotate(-90)" font-size="11.8" text-anchor="middle" textLength="23.2" lengthAdjust="spacingAndGlyphs">0.20</text>
<line x1="525.65" y1="317.8" x2="532.72" y2="317.8"/>
<line x1="525.65" y1="284.2" x2="532.72" y2="284.2"/>
<text transform="translate(517.35 284.8) rotate(-90)" font-size="11.8" text-anchor="middle" textLength="23.2" lengthAdjust="spacingAndGlyphs">0.30</text>
<text x="729.93" y="354.3" font-size="17.7" text-anchor="middle" stroke-width="0.55" textLength="24.35" lengthAdjust="spacingAndGlyphs">(D)</text>
</g>
<g>
<clipPath id="clip20"><rect x="53.13" y="552" width="396.53" height="211.1"/></clipPath>
<g clip-path="url(#clip20)" fill="none">
<path d="M67.89 754.18L70.95 754.13L72.38 754.11M75.92 754.06L77.06 754.04L80.12 753.99L80.41 753.98M83.95 753.92L86.23 753.88L88.44 753.84M91.97 753.77L92.34 753.76L95.4 753.7L96.46 753.67M100 753.59L101.51 753.56L104.49 753.49M108.03 753.4L110.68 753.33L112.52 753.27M116.05 753.17L116.79 753.15L119.85 753.06L120.54 753.03M124.08 752.92L125.96 752.85L128.57 752.76M132.11 752.63L135.13 752.51L136.6 752.45M140.14 752.3L141.24 752.25L144.29 752.11L144.63 752.09M148.16 751.92L150.41 751.81L152.65 751.69M156.19 751.49L156.52 751.47L159.57 751.29L160.68 751.22M164.22 750.99L165.69 750.89L168.71 750.68M172.24 750.41L174.86 750.21L176.73 750.05M180.27 749.74L180.97 749.68L184.02 749.4L184.76 749.32M188.3 748.96L190.14 748.77L192.79 748.46M196.33 748.02L199.3 747.61L200.82 747.38M204.35 746.83L205.42 746.66L208.47 746.14L208.84 746.08M212.38 745.46L214.59 745.06L216.87 744.65M220.41 744.02L220.7 743.97L223.75 743.44L224.9 743.25M228.44 742.66L229.87 742.43L232.92 741.93L232.93 741.93M236.46 741.35L239.03 740.93L240.95 740.59M244.49 739.95L245.15 739.83L248.2 739.22L248.98 739.05M252.52 738.24L254.31 737.8L257.01 737.06M260.54 735.99L263.48 735.01L265.03 734.44M268.57 733.1L269.6 732.7L272.65 731.41L273.06 731.23M276.6 729.63L278.76 728.62L281.09 727.48M284.63 725.7L284.88 725.58L287.93 724L289.12 723.38M292.65 721.49L294.04 720.74L297.1 719.01L297.14 718.99M300.68 716.91L303.21 715.37L305.17 714.13M308.71 711.84L309.32 711.44L312.38 709.35L313.2 708.77M316.73 706.22L318.49 704.93L321.22 702.86M324.76 700.11L327.66 697.78L329.25 696.44M332.79 693.39L333.77 692.53L336.83 689.68L337.28 689.24M340.76 685.72L342.94 683.4L344.83 681.22M347.8 677.68L349.05 676.15L351.34 673.19M353.99 669.64L355.17 668.05L357.23 665.15M359.71 661.61L361.28 659.34L362.8 657.11M365.18 653.57L367.39 650.24L368.14 649.07M370.4 645.53L370.45 645.46L373.15 641.04M375.21 637.49L376.56 635.16L377.72 633M379.62 629.46L381.85 624.96M383.53 621.42L385.58 616.92M387.09 613.38L388.78 609.39L388.98 608.89M390.41 605.34L391.84 601.78L392.2 600.85M393.58 597.31L394.9 593.9L395.31 592.81M396.65 589.27L397.95 585.85L398.35 584.77M399.66 581.23L401.01 577.56L401.3 576.73M402.57 573.19L404.06 568.99L404.16 568.7M405.38 565.15L406.93 560.66M408.11 557.12L409.59 552.62M410.74 549.08L412.17 544.58M413.29 541.04L414.66 536.55M415.74 533L416.29 531.2" stroke-width="1.25"/>
<polyline points="67.89,754.24 70.95,754.21 74,754.17 77.06,754.13 80.12,754.09 83.17,754.05 86.23,754.01 89.28,753.96 92.34,753.91 95.4,753.86 98.45,753.81 101.51,753.76 104.56,753.7 107.62,753.64 110.68,753.58 113.73,753.51 116.79,753.44 119.85,753.37 122.9,753.3 125.96,753.22 129.01,753.13 132.07,753.05 135.13,752.95 138.18,752.85 141.24,752.75 144.29,752.63 147.35,752.51 150.41,752.39 153.46,752.25 156.52,752.12 159.57,751.97 162.63,751.82 165.69,751.67 168.74,751.51 171.8,751.35 174.86,751.18 177.91,751.02 180.97,750.85 184.02,750.69 187.08,750.52 190.14,750.36 193.19,750.19 196.25,750.02 199.3,749.85 202.36,749.67 205.42,749.49 208.47,749.3 211.53,749.11 214.59,748.91 217.64,748.7 220.7,748.47 223.75,748.24 226.81,747.99 229.87,747.72 232.92,747.44 235.98,747.15 239.03,746.84 242.09,746.51 245.15,746.16 248.2,745.78 251.26,745.38 254.31,744.96 257.37,744.51 260.43,744.04 263.48,743.54 266.54,743.01 269.6,742.45 272.65,741.87 275.71,741.27 278.76,740.63 281.82,739.97 284.88,739.28 287.93,738.57 290.99,737.84 294.04,737.07 297.1,736.27 300.16,735.43 303.21,734.56 306.27,733.65 309.32,732.69 312.38,731.7 315.44,730.66 318.49,729.58 321.55,728.45 324.61,727.27 327.66,726.04 330.72,724.76 333.77,723.42 336.83,722.02 339.89,720.56 342.94,719.03 346,717.44 349.05,715.78 352.11,714.04 355.17,712.23 358.22,710.34 361.28,708.37 364.34,706.31 367.39,704.16 370.45,701.92 373.5,699.58 376.56,697.13 379.62,694.58 382.67,691.91 385.73,689.13 388.78,686.23 391.84,683.2 394.9,680.04 397.95,676.74 401.01,673.29 404.06,669.7 407.12,665.94 410.18,662.02 413.23,657.93 416.29,653.66 419.35,649.2 422.4,644.55 425.46,639.69 428.51,634.62 431.57,629.33 434.63,623.81" stroke-width="1.25"/>
<path d="M67.89 754.96L69.93 754.95M71.7 754.95L73.74 754.94M75.51 754.94L77.06 754.93L77.55 754.93M79.32 754.92L80.12 754.92L81.36 754.92M83.13 754.91L83.17 754.91L85.17 754.9M86.94 754.9L88.98 754.89M90.75 754.88L92.34 754.87L92.79 754.87M94.56 754.87L95.4 754.86L96.6 754.86M98.37 754.85L98.45 754.85L100.41 754.84M102.18 754.83L104.22 754.83M105.99 754.82L107.62 754.81L108.03 754.81M109.8 754.8L110.68 754.8L111.84 754.79M113.61 754.78L113.73 754.78L115.65 754.77M117.41 754.76L119.46 754.75M121.22 754.74L122.9 754.73L123.27 754.73M125.03 754.72L125.96 754.72L127.07 754.71M128.84 754.7L129.01 754.7L130.88 754.69M132.65 754.68L134.69 754.66M136.46 754.65L138.18 754.64L138.5 754.64M140.27 754.63L141.24 754.62L142.31 754.62M144.08 754.61L144.29 754.6L146.12 754.59M147.89 754.58L149.93 754.57M151.7 754.55L153.46 754.54L153.74 754.54M155.51 754.52L156.52 754.52L157.55 754.51M159.32 754.49L159.57 754.49L161.36 754.48M163.13 754.46L165.17 754.45M166.94 754.43L168.74 754.41L168.98 754.41M170.75 754.4L171.8 754.39L172.79 754.38M174.56 754.36L174.86 754.36L176.6 754.34M178.37 754.32L180.41 754.3M182.18 754.28L184.02 754.25L184.22 754.25M185.99 754.23L187.08 754.22L188.03 754.2M189.8 754.18L190.14 754.18L191.84 754.15M193.61 754.13L195.65 754.1M197.41 754.07L199.3 754.03L199.46 754.03M201.22 754L202.36 753.98L203.27 753.96M205.03 753.92L205.42 753.92L207.07 753.88M208.84 753.84L210.88 753.79M212.65 753.75L214.59 753.7L214.69 753.7M216.46 753.65L217.64 753.62L218.5 753.6M220.27 753.55L220.7 753.54L222.31 753.49M224.08 753.44L226.12 753.38M227.89 753.32L229.87 753.26L229.93 753.26M231.7 753.2L232.92 753.16L233.74 753.14M235.51 753.08L235.98 753.06L237.55 753.01M239.32 752.95L241.36 752.88M243.13 752.82L245.15 752.75L245.17 752.75M246.94 752.69L248.2 752.65L248.98 752.62M250.75 752.57L251.26 752.55L252.79 752.5M254.56 752.44L256.6 752.38M258.37 752.32L260.41 752.25M262.18 752.19L263.48 752.15L264.22 752.13M265.99 752.07L266.54 752.05L268.03 752M269.8 751.94L271.84 751.87M273.61 751.81L275.65 751.74M277.41 751.68L278.76 751.64L279.46 751.61M281.22 751.55L281.82 751.53L283.27 751.48M285.03 751.42L287.07 751.34M288.84 751.28L290.88 751.2M292.65 751.13L294.04 751.08L294.69 751.05M296.46 750.98L297.1 750.96L298.5 750.9M300.27 750.82L302.31 750.74M304.08 750.66L306.12 750.57M307.89 750.49L309.32 750.42L309.93 750.39M311.7 750.3L312.38 750.27L313.74 750.2M315.51 750.11L317.55 750M319.32 749.9L321.36 749.78M323.13 749.68L324.61 749.6L325.17 749.56M326.94 749.46L327.66 749.41L328.98 749.33M330.75 749.22L332.79 749.1M334.56 748.98L336.6 748.85M338.37 748.74L339.89 748.64L340.41 748.61M342.18 748.49L342.94 748.44L344.22 748.36M345.99 748.24L346 748.24L348.03 748.1M349.8 747.98L351.84 747.84M353.61 747.72L355.17 747.61L355.65 747.57M357.41 747.45L358.22 747.39L359.46 747.3M361.22 747.17L361.28 747.16L363.27 747.01M365.03 746.88L367.07 746.71M368.84 746.57L370.45 746.44L370.88 746.4M372.65 746.25L373.5 746.18L374.69 746.07M376.46 745.9L376.56 745.9L378.5 745.71M380.27 745.53L382.31 745.32M384.08 745.13L385.73 744.96L386.12 744.91M387.89 744.72L388.78 744.62L389.93 744.5M391.7 744.3L391.84 744.28L393.74 744.07M395.51 743.88L397.55 743.65M399.32 743.46L401.01 743.28L401.36 743.25M403.13 743.07L404.06 742.98L405.17 742.87M406.94 742.7L407.12 742.68L408.98 742.51M410.75 742.35L412.79 742.16M414.56 742.01L416.29 741.85L416.6 741.83M418.37 741.67L419.35 741.58L420.41 741.49M422.18 741.33L422.4 741.31L424.22 741.14M425.99 740.98L428.03 740.79M429.8 740.61L431.57 740.43L431.84 740.4M433.61 740.21L434.63 740.1" stroke-width="1.5"/>
</g>
<rect x="53.13" y="552" width="396.53" height="211.1" fill="none"/>
<line x1="67.89" y1="763.1" x2="67.89" y2="770.7"/>
<text x="67.48" y="790.4" font-size="11.8" text-anchor="middle" textLength="12.11" lengthAdjust="spacingAndGlyphs">30</text>
<line x1="129.01" y1="763.1" x2="129.01" y2="770.7"/>
<text x="128.61" y="790.4" font-size="11.8" text-anchor="middle" textLength="12.11" lengthAdjust="spacingAndGlyphs">40</text>
<line x1="190.14" y1="763.1" x2="190.14" y2="770.7"/>
<text x="189.73" y="790.4" font-size="11.8" text-anchor="middle" textLength="12.11" lengthAdjust="spacingAndGlyphs">50</text>
<line x1="251.26" y1="763.1" x2="251.26" y2="770.7"/>
<text x="250.85" y="790.4" font-size="11.8" text-anchor="middle" textLength="12.11" lengthAdjust="spacingAndGlyphs">60</text>
<line x1="312.38" y1="763.1" x2="312.38" y2="770.7"/>
<text x="311.97" y="790.4" font-size="11.8" text-anchor="middle" textLength="12.11" lengthAdjust="spacingAndGlyphs">70</text>
<line x1="373.5" y1="763.1" x2="373.5" y2="770.7"/>
<text x="373.1" y="790.4" font-size="11.8" text-anchor="middle" textLength="12.11" lengthAdjust="spacingAndGlyphs">80</text>
<line x1="434.63" y1="763.1" x2="434.63" y2="770.7"/>
<text x="434.22" y="790.4" font-size="11.8" text-anchor="middle" textLength="12.11" lengthAdjust="spacingAndGlyphs">90</text>
<line x1="46.05" y1="755.35" x2="53.13" y2="755.35"/>
<text transform="translate(37.76 755.95) rotate(-90)" font-size="11.8" text-anchor="middle" textLength="23.2" lengthAdjust="spacingAndGlyphs">0.00</text>
<line x1="46.05" y1="722.77" x2="53.13" y2="722.77"/>
<line x1="46.05" y1="690.2" x2="53.13" y2="690.2"/>
<text transform="translate(37.76 690.8) rotate(-90)" font-size="11.8" text-anchor="middle" textLength="23.2" lengthAdjust="spacingAndGlyphs">0.10</text>
<line x1="46.05" y1="657.62" x2="53.13" y2="657.62"/>
<line x1="46.05" y1="625.45" x2="53.13" y2="625.45"/>
<text transform="translate(37.76 626.05) rotate(-90)" font-size="11.8" text-anchor="middle" textLength="23.2" lengthAdjust="spacingAndGlyphs">0.20</text>
<line x1="46.05" y1="593.47" x2="53.13" y2="593.47"/>
<line x1="46.05" y1="559.9" x2="53.13" y2="559.9"/>
<text transform="translate(37.76 560.5) rotate(-90)" font-size="11.8" text-anchor="middle" textLength="23.2" lengthAdjust="spacingAndGlyphs">0.30</text>
<text x="252.24" y="630" font-size="17.7" text-anchor="middle" stroke-width="0.55" textLength="24.35" lengthAdjust="spacingAndGlyphs">(E)</text>
<text transform="translate(10.48 657.75) rotate(-90)" font-size="11.8" text-anchor="middle" stroke-width="0.32" textLength="116.7" lengthAdjust="spacingAndGlyphs">Background mortality</text>
<text x="250.85" y="818.7" font-size="11.8" text-anchor="middle" textLength="62.04" lengthAdjust="spacingAndGlyphs">Age (years)</text>
</g>
<g>
<clipPath id="clip21"><rect x="532.72" y="552" width="396.87" height="211.1"/></clipPath>
<g clip-path="url(#clip21)" fill="none">
<path d="M547.62 754.11L550.68 754.07L552.11 754.05M555.65 754.01L556.8 753.99L559.86 753.95L560.14 753.95M563.67 753.89L565.98 753.86L568.16 753.82M571.7 753.77L572.1 753.76L575.16 753.71L576.19 753.69M579.73 753.63L581.28 753.6L584.22 753.55M587.76 753.48L590.46 753.42L592.24 753.39M595.78 753.31L596.58 753.29L599.64 753.23L600.27 753.21M603.81 753.13L605.76 753.08L608.3 753.02M611.84 752.93L611.88 752.92L614.94 752.84L616.33 752.8M619.86 752.7L621.06 752.67L624.12 752.57L624.35 752.56M627.89 752.45L630.24 752.37L632.38 752.3M635.92 752.17L636.36 752.16L639.42 752.04L640.41 752.01M643.95 751.87L645.54 751.8L648.44 751.68M651.97 751.53L654.72 751.41L656.46 751.33M660 751.16L660.84 751.12L663.9 750.97L664.49 750.94M668.03 750.76L670.02 750.66L672.52 750.52M676.05 750.33L676.14 750.32L679.2 750.15L680.54 750.07M684.08 749.86L685.32 749.78L688.38 749.59L688.57 749.57M692.11 749.34L694.5 749.18L696.6 749.03M700.14 748.78L700.62 748.74L703.68 748.51L704.63 748.44M708.16 748.16L709.8 748.03L712.65 747.78M716.19 747.47L718.98 747.22L720.68 747.06M724.22 746.71L725.1 746.62L728.16 746.3L728.71 746.24M732.24 745.85L734.28 745.62L736.73 745.32M740.27 744.88L740.4 744.86L743.46 744.46L744.76 744.28M748.3 743.78L749.59 743.59L752.65 743.13L752.79 743.11M756.33 742.56L758.77 742.16L760.82 741.82M764.35 741.22L764.89 741.13L767.95 740.58L768.84 740.42M772.38 739.75L774.07 739.42L776.87 738.86M780.41 738.13L783.25 737.53L784.9 737.17M788.44 736.38L789.37 736.18L792.43 735.48L792.93 735.36M796.46 734.54L798.55 734.06L800.95 733.48M804.49 732.62L804.67 732.58L807.73 731.81L808.98 731.49M812.52 730.55L813.85 730.2L816.91 729.34L817.01 729.31M820.54 728.28L823.03 727.53L825.03 726.91M828.57 725.78L829.15 725.59L832.21 724.58L833.06 724.28M836.6 723.05L838.33 722.43L841.09 721.42M844.63 720.07L847.51 718.94L849.12 718.28M852.65 716.81L853.63 716.4L856.69 715.07L857.14 714.86M860.68 713.26L862.81 712.26L865.17 711.13M868.71 709.37L868.93 709.26L871.99 707.69L873.2 707.04M876.73 705.13L878.11 704.37L881.17 702.62L881.22 702.59M884.76 700.5L887.29 698.95L889.25 697.72M892.79 695.43L893.41 695.03L896.47 692.96L897.28 692.4M900.82 689.9L902.59 688.62L905.31 686.59M908.84 683.87L911.77 681.53L913.33 680.24" stroke-width="1.25"/>
<polyline points="547.62,754.24 550.68,754.21 553.74,754.17 556.8,754.13 559.86,754.09 562.92,754.05 565.98,754.01 569.04,753.96 572.1,753.91 575.16,753.86 578.22,753.81 581.28,753.76 584.34,753.7 587.4,753.64 590.46,753.58 593.52,753.51 596.58,753.44 599.64,753.37 602.7,753.3 605.76,753.22 608.82,753.13 611.88,753.05 614.94,752.95 618,752.85 621.06,752.75 624.12,752.63 627.18,752.51 630.24,752.39 633.3,752.25 636.36,752.12 639.42,751.97 642.48,751.82 645.54,751.67 648.6,751.51 651.66,751.35 654.72,751.18 657.78,751.02 660.84,750.85 663.9,750.69 666.96,750.52 670.02,750.36 673.08,750.19 676.14,750.02 679.2,749.85 682.26,749.67 685.32,749.49 688.38,749.3 691.44,749.11 694.5,748.91 697.56,748.7 700.62,748.47 703.68,748.24 706.74,747.99 709.8,747.72 712.86,747.44 715.92,747.15 718.98,746.84 722.04,746.51 725.1,746.16 728.16,745.78 731.22,745.38 734.28,744.96 737.34,744.51 740.4,744.04 743.46,743.54 746.52,743.01 749.59,742.45 752.65,741.87 755.71,741.27 758.77,740.63 761.83,739.97 764.89,739.28 767.95,738.57 771.01,737.84 774.07,737.07 777.13,736.27 780.19,735.43 783.25,734.56 786.31,733.65 789.37,732.69 792.43,731.7 795.49,730.66 798.55,729.58 801.61,728.45 804.67,727.27 807.73,726.04 810.79,724.76 813.85,723.42 816.91,722.02 819.97,720.56 823.03,719.03 826.09,717.44 829.15,715.78 832.21,714.04 835.27,712.23 838.33,710.34 841.39,708.37 844.45,706.31 847.51,704.16 850.57,701.92 853.63,699.58 856.69,697.13 859.75,694.58 862.81,691.91 865.87,689.13 868.93,686.23 871.99,683.2 875.05,680.04 878.11,676.74 881.17,673.29 884.23,669.7 887.29,665.94 890.35,662.02 893.41,657.93 896.47,653.66 899.53,649.2 902.59,644.55 905.65,639.69 908.71,634.62 911.77,629.33 914.83,623.81" stroke-width="1.25"/>
<path d="M547.62 754.37L549.66 754.35M551.43 754.33L553.47 754.31M555.24 754.28L556.8 754.26L557.28 754.26M559.05 754.24L559.86 754.23L561.09 754.21M562.86 754.19L562.92 754.18L564.9 754.16M566.67 754.13L568.71 754.1M570.48 754.08L572.1 754.05L572.52 754.05M574.29 754.02L575.16 754L576.33 753.99M578.1 753.96L578.22 753.96L580.14 753.92M581.9 753.89L583.95 753.86M585.71 753.82L587.4 753.79L587.76 753.79M589.52 753.75L590.46 753.74L591.56 753.71M593.33 753.68L593.52 753.67L595.37 753.64M597.14 753.6L599.18 753.56M600.95 753.52L602.7 753.48L602.99 753.47M604.76 753.43L605.76 753.4L606.8 753.38M608.57 753.34L608.82 753.33L610.61 753.28M612.38 753.24L614.42 753.19M616.19 753.14L618 753.09L618.23 753.08M620 753.03L621.06 753L622.04 752.97M623.81 752.92L624.12 752.91L625.85 752.85M627.62 752.8L629.66 752.73M631.43 752.67L633.3 752.6L633.47 752.6M635.24 752.54L636.36 752.49L637.28 752.46M639.05 752.39L639.42 752.38L641.09 752.32M642.86 752.25L644.9 752.16M646.67 752.09L648.6 752.01L648.71 752M650.48 751.92L651.66 751.87L652.52 751.83M654.29 751.75L654.72 751.73L656.33 751.65M658.1 751.57L660.14 751.46M661.9 751.37L663.9 751.26L663.95 751.26M665.71 751.16L666.96 751.1L667.76 751.05M669.52 750.95L670.02 750.92L671.56 750.83M673.33 750.72L675.37 750.59M677.14 750.48L679.18 750.35M680.95 750.23L682.26 750.14L682.99 750.08M684.76 749.96L685.32 749.92L686.8 749.81M688.57 749.68L690.61 749.52M692.38 749.38L694.42 749.21M696.19 749.06L697.56 748.94L698.23 748.88M700 748.73L700.62 748.67L702.04 748.54M703.81 748.37L705.85 748.17M707.62 747.99L709.66 747.78M711.43 747.59L712.86 747.44L713.47 747.37M715.24 747.17L715.92 747.09L717.28 746.93M719.05 746.72L721.09 746.46M722.86 746.23L724.9 745.96M726.67 745.72L728.16 745.51L728.71 745.43M730.48 745.17L731.22 745.06L732.52 744.85M734.29 744.58L736.33 744.24M738.1 743.94L740.14 743.58M741.9 743.25L743.46 742.96L743.95 742.87M745.71 742.52L746.52 742.36L747.76 742.1M749.52 741.73L749.59 741.72L751.56 741.28M753.33 740.88L755.37 740.41M757.14 739.98L758.77 739.58L759.18 739.47M760.95 739.01L761.83 738.78L762.99 738.46M764.76 737.97L764.89 737.94L766.8 737.38M768.57 736.85L770.61 736.22M772.38 735.65L774.07 735.09L774.42 734.96M776.19 734.34L777.13 734.02L778.23 733.6M780 732.94L780.19 732.87L782.04 732.12M783.81 731.38L785.85 730.49M787.62 729.69L789.37 728.88L789.66 728.75M791.43 727.93L792.43 727.47L793.47 726.99M795.24 726.18L795.49 726.07L797.28 725.24M799.05 724.43L801.09 723.46M802.86 722.6L804.67 721.7L804.9 721.58M806.67 720.63L807.73 720.07L808.71 719.5M810.48 718.48L810.79 718.3L812.52 717.22M814.29 716.11L816.33 714.77M818.1 713.57L819.97 712.27L820.14 712.15M821.9 710.86L823.03 710.05L823.95 709.36M825.71 708.03L826.09 707.75L827.76 706.46M829.52 705.08L831.56 703.44M833.33 701.99L835.27 700.37L835.37 700.28M837.14 698.74L838.33 697.71L839.18 696.94M840.95 695.33L841.39 694.94L842.99 693.41M844.76 691.71L846.8 689.68M848.53 687.91L850.5 685.86M852.14 684.09L853.63 682.49L854.02 682.05M855.6 680.28L856.69 679.05L857.38 678.24M858.88 676.46L859.75 675.45L860.57 674.42M862 672.65L862.81 671.64L863.59 670.61M864.93 668.84L865.87 667.6L866.44 666.79M867.7 665.02L868.93 663.29L869.14 662.98M870.31 661.21L871.66 659.16M872.76 657.39L874.01 655.35M875.08 653.58L876.25 651.53M877.25 649.76L878.11 648.26L878.4 647.72M879.35 645.95L880.45 643.91M881.39 642.13L882.43 640.09M883.34 638.32L884.23 636.59L884.38 636.28M885.24 634.51L886.23 632.46M887.09 630.69L887.29 630.29L888.04 628.65M888.86 626.88L889.8 624.83M890.6 623.06L891.49 621.02M892.27 619.25L893.16 617.2M893.91 615.43L894.76 613.39M895.5 611.62L896.36 609.57M897.07 607.8L897.89 605.76M898.6 603.99L899.42 601.95M900.11 600.17L900.89 598.13M901.57 596.36L902.36 594.32M903.02 592.55L903.77 590.5M904.42 588.73L905.17 586.69M905.82 584.92L906.54 582.87M907.16 581.1L907.88 579.06M908.5 577.29L908.71 576.7L909.2 575.24M909.8 573.47L910.48 571.43M911.08 569.66L911.77 567.62L911.77 567.62M912.34 565.84L913 563.8M913.57 562.03L914.23 559.99M914.81 558.22L914.83 558.14" stroke-width="1.5"/>
<path d="M547.62 754.05L549.66 753.99M552.65 753.92L553.74 753.89L556.8 753.8L559.18 753.73M561.9 753.65L562.92 753.61L563.95 753.58M566.94 753.48L569.04 753.41L572.1 753.3L573.47 753.25M576.19 753.15L578.22 753.07L578.23 753.07M581.22 752.95L581.28 752.95L584.34 752.82L587.4 752.69L587.76 752.67M590.48 752.55L592.52 752.45M595.51 752.31L596.58 752.26L599.64 752.1L602.04 751.97M604.76 751.81L605.76 751.76L606.8 751.69M609.8 751.51L611.88 751.37L614.94 751.16L616.33 751.06M619.05 750.85L621.06 750.69L621.09 750.69M624.08 750.44L624.12 750.44L627.18 750.17L630.24 749.88L630.61 749.84M633.33 749.58L635.37 749.36M638.37 749.04L639.42 748.93L642.48 748.58L644.9 748.29M647.62 747.96L648.6 747.84L649.66 747.7M652.65 747.32L654.72 747.05L657.78 746.64L659.18 746.44M661.9 746.07L663.9 745.79L663.95 745.78M666.94 745.36L666.96 745.36L670.02 744.93L673.08 744.5L673.47 744.45M676.19 744.07L678.23 743.8M681.22 743.39L682.26 743.25L685.32 742.83L687.76 742.49M690.48 742.09L691.44 741.95L692.52 741.79M695.51 741.31L697.56 740.97L700.62 740.41L702.04 740.13M704.76 739.56L706.74 739.12L706.8 739.1M709.8 738.37L709.8 738.37L712.86 737.57L715.92 736.71L716.33 736.6M719.05 735.81L721.09 735.2M724.08 734.3L725.1 734L728.16 733.09L730.61 732.4M733.33 731.65L734.28 731.39L735.37 731.1M738.37 730.31L740.4 729.78L743.46 728.98L744.9 728.61M747.62 727.9L749.59 727.38L749.66 727.36M752.65 726.55L755.71 725.69L758.77 724.77L759.18 724.64M761.9 723.76L763.95 723.06M766.94 721.97L767.95 721.6L771.01 720.39L773.47 719.37M776.19 718.2L777.13 717.79L778.23 717.29M781.22 715.91L783.25 714.96L786.31 713.47L787.76 712.75M790.48 711.39L792.43 710.4L792.52 710.35M795.51 708.81L798.55 707.2L801.61 705.55L802.04 705.3M804.76 703.79L806.8 702.61M809.8 700.85L810.79 700.26L813.85 698.37L816.33 696.77M819.05 694.95L819.97 694.33L821.09 693.54M824.08 691.39L826.09 689.91L829.15 687.56L830.61 686.39M833.33 684.18L835.27 682.56L835.37 682.47M838.37 679.87L841.39 677.14L844.45 674.26L844.9 673.81M847.62 671.14L849.61 669.1M852.46 666.1L853.63 664.86L856.69 661.45L858.31 659.56M860.62 656.84L862.29 654.79M864.65 651.8L865.87 650.24L868.93 646.11L869.53 645.26M871.45 642.53L871.99 641.76L872.84 640.49M874.84 637.49L875.05 637.18L878.11 632.37L878.97 630.95M880.62 628.23L881.17 627.31L881.82 626.18M883.54 623.19L884.23 621.98L887.08 616.65M888.47 613.92L889.5 611.88M890.98 608.88L893.41 603.86L894.13 602.34M895.42 599.62L896.39 597.57M897.82 594.58L899.53 591L900.94 588.04M902.24 585.31L902.59 584.57L903.2 583.27M904.61 580.27L905.65 578.05L907.65 573.73M908.92 571.01L909.86 568.97M911.24 565.97L911.77 564.81L914.24 559.43" stroke-width="1.3"/>
</g>
<rect x="532.72" y="552" width="121.77" height="109.3" fill="#fff" stroke="none"/>
<path d="M654.49 552V661.3H532.72" fill="none" stroke-width="1.45"/>
<path d="M545.1 574.8L549.59 574.8M553.13 574.8L557.62 574.8M561.16 574.8L565.65 574.8M569.18 574.8L571.63 574.8" stroke-width="1.55" fill="none"/>
<text x="583.33" y="579.9" font-size="12.3" text-anchor="start" textLength="26.67" lengthAdjust="spacingAndGlyphs">X = 0</text>
<line x1="545.1" y1="596.7" x2="571.63" y2="596.7" stroke-width="1.55"/>
<text x="583.33" y="601.8" font-size="12.3" text-anchor="start" textLength="49.8" lengthAdjust="spacingAndGlyphs">Gen. pop.</text>
<path d="M545.1 618.6L547.14 618.6M548.91 618.6L550.95 618.6M552.72 618.6L554.76 618.6M556.53 618.6L558.57 618.6M560.34 618.6L562.38 618.6M564.15 618.6L566.19 618.6M567.96 618.6L570 618.6" stroke-width="1.8" fill="none"/>
<text x="583.33" y="623.7" font-size="12.3" text-anchor="start" textLength="26.67" lengthAdjust="spacingAndGlyphs">X = 1</text>
<path d="M545.1 640.5L547.14 640.5M550.14 640.5L556.67 640.5M559.39 640.5L561.43 640.5M564.42 640.5L570.95 640.5" stroke-width="1.6" fill="none"/>
<text x="583.33" y="645.6" font-size="12.3" text-anchor="start" textLength="26.67" lengthAdjust="spacingAndGlyphs">X = 2</text>
<rect x="532.72" y="552" width="396.87" height="211.1" fill="none"/>
<line x1="547.62" y1="763.1" x2="547.62" y2="770.7"/>
<text x="547.21" y="790.4" font-size="11.8" text-anchor="middle" textLength="12.11" lengthAdjust="spacingAndGlyphs">30</text>
<line x1="608.82" y1="763.1" x2="608.82" y2="770.7"/>
<text x="608.41" y="790.4" font-size="11.8" text-anchor="middle" textLength="12.11" lengthAdjust="spacingAndGlyphs">40</text>
<line x1="670.02" y1="763.1" x2="670.02" y2="770.7"/>
<text x="669.61" y="790.4" font-size="11.8" text-anchor="middle" textLength="12.11" lengthAdjust="spacingAndGlyphs">50</text>
<line x1="731.22" y1="763.1" x2="731.22" y2="770.7"/>
<text x="730.82" y="790.4" font-size="11.8" text-anchor="middle" textLength="12.11" lengthAdjust="spacingAndGlyphs">60</text>
<line x1="792.43" y1="763.1" x2="792.43" y2="770.7"/>
<text x="792.02" y="790.4" font-size="11.8" text-anchor="middle" textLength="12.11" lengthAdjust="spacingAndGlyphs">70</text>
<line x1="853.63" y1="763.1" x2="853.63" y2="770.7"/>
<text x="853.22" y="790.4" font-size="11.8" text-anchor="middle" textLength="12.11" lengthAdjust="spacingAndGlyphs">80</text>
<line x1="914.83" y1="763.1" x2="914.83" y2="770.7"/>
<text x="914.42" y="790.4" font-size="11.8" text-anchor="middle" textLength="12.11" lengthAdjust="spacingAndGlyphs">90</text>
<line x1="525.65" y1="755.35" x2="532.72" y2="755.35"/>
<text transform="translate(517.35 755.95) rotate(-90)" font-size="11.8" text-anchor="middle" textLength="23.2" lengthAdjust="spacingAndGlyphs">0.00</text>
<line x1="525.65" y1="722.77" x2="532.72" y2="722.77"/>
<line x1="525.65" y1="690.2" x2="532.72" y2="690.2"/>
<text transform="translate(517.35 690.8) rotate(-90)" font-size="11.8" text-anchor="middle" textLength="23.2" lengthAdjust="spacingAndGlyphs">0.10</text>
<line x1="525.65" y1="657.62" x2="532.72" y2="657.62"/>
<line x1="525.65" y1="625.45" x2="532.72" y2="625.45"/>
<text transform="translate(517.35 626.05) rotate(-90)" font-size="11.8" text-anchor="middle" textLength="23.2" lengthAdjust="spacingAndGlyphs">0.20</text>
<line x1="525.65" y1="593.47" x2="532.72" y2="593.47"/>
<line x1="525.65" y1="559.9" x2="532.72" y2="559.9"/>
<text transform="translate(517.35 560.5) rotate(-90)" font-size="11.8" text-anchor="middle" textLength="23.2" lengthAdjust="spacingAndGlyphs">0.30</text>
<text x="730.07" y="630.6" font-size="17.7" text-anchor="middle" stroke-width="0.55" textLength="24.35" lengthAdjust="spacingAndGlyphs">(F)</text>
<text x="730.61" y="818.7" font-size="11.8" text-anchor="middle" textLength="62.04" lengthAdjust="spacingAndGlyphs">Age (years)</text>
</g>
</g></g>
</svg>
</body>
</html>
